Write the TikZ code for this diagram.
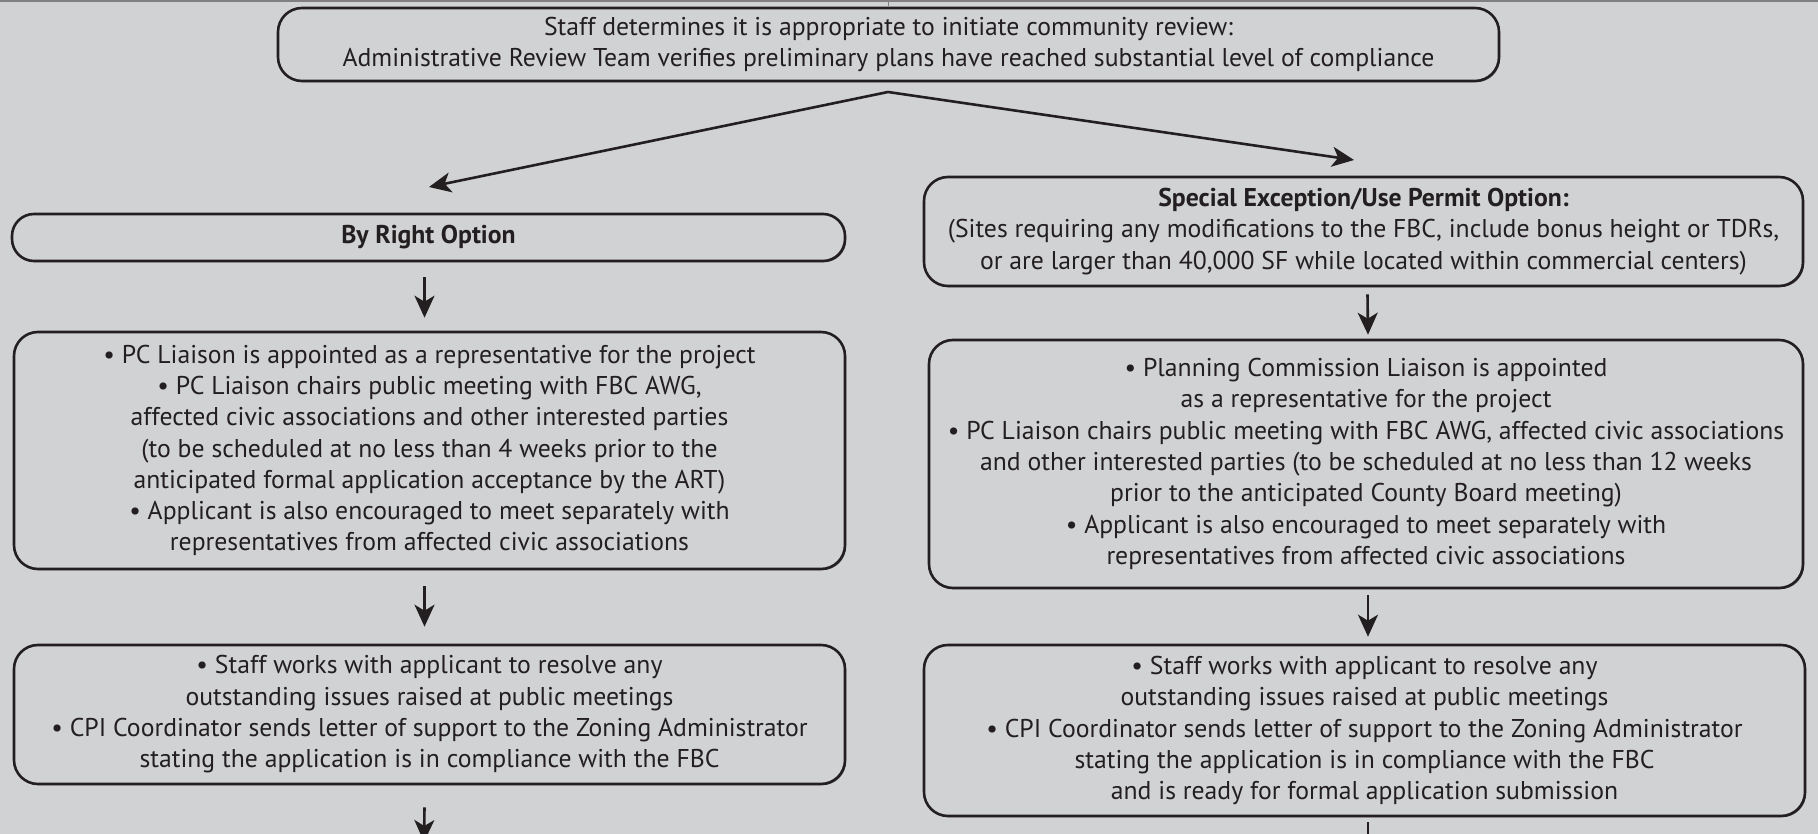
\documentclass[tikz,border=0pt]{standalone}
\usepackage{fontspec}
\setmainfont{PT Sans}
\usetikzlibrary{arrows.meta,shadows}
\definecolor{panel}{RGB}{209,210,212}
\definecolor{ink}{RGB}{35,31,32}
\begin{document}
\begin{tikzpicture}[x=1pt,y=-1pt,
    stepbox/.style={draw=ink,line width=2.6pt,rounded corners=24pt,fill=panel,align=center,inner sep=0pt,text=ink,
      font=\fontsize{25.7}{31.3}\selectfont,drop shadow={shadow xshift=1.2pt,shadow yshift=-1.2pt,fill=ink,opacity=0.6}},
    flow/.style={draw=ink,line width=2.6pt,-{Stealth[length=22pt,width=20pt,inset=6pt]}}]
\fill[panel] (0,0) rectangle (1818,834);
\clip (0,0) rectangle (1818,834);
\draw[gray,line width=2pt] (0,1) -- (1818,1);
\draw[gray,line width=1pt] (888,2) -- (888,6);
\node[stepbox,minimum width=1221pt,minimum height=73pt] (start) at (888.5,44.5)
  {Staff determines it is appropriate to initiate community review:\\
   Administrative Review Team verifies preliminary plans have reached substantial level of compliance};
\node[stepbox,rounded corners=22pt,minimum width=833pt,minimum height=47pt] (byright) at (428.5,237.5)
  {\textbf{By Right Option}};
\node[stepbox,minimum width=879pt,minimum height=109pt] (special) at (1363.5,231.5)
  {\textbf{Special Exception/Use Permit Option:}\\
   (Sites requiring any modifications to the FBC, include bonus height or TDRs,\\
   or are larger than 40,000 SF while located within commercial centers)};
\node[stepbox,minimum width=831pt,minimum height=237pt] (liaisonL) at (429.5,450.5)
  {• PC Liaison is appointed as a representative for the project\\
   • PC Liaison chairs public meeting with FBC AWG,\\
   affected civic associations and other interested parties\\
   (to be scheduled at no less than 4 weeks prior to the\\
   anticipated formal application acceptance by the ART)\\
   • Applicant is also encouraged to meet separately with\\
   representatives from affected civic associations};
\node[stepbox,minimum width=874pt,minimum height=248pt] (liaisonR) at (1366,464)
  {• Planning Commission Liaison is appointed\\
   as a representative for the project\\
   • PC Liaison chairs public meeting with FBC AWG, affected civic associations\\
   and other interested parties (to be scheduled at no less than 12 weeks\\
   prior to the anticipated County Board meeting)\\
   • Applicant is also encouraged to meet separately with\\
   representatives from affected civic associations};
\node[stepbox,minimum width=831pt,minimum height=139pt] (resolveL) at (429.5,714.5)
  {• Staff works with applicant to resolve any\\
   outstanding issues raised at public meetings\\
   • CPI Coordinator sends letter of support to the Zoning Administrator\\
   stating the application is in compliance with the FBC};
\node[stepbox,minimum width=881pt,minimum height=171pt] (resolveR) at (1364.5,730.5)
  {• Staff works with applicant to resolve any\\
   outstanding issues raised at public meetings\\
   • CPI Coordinator sends letter of support to the Zoning Administrator\\
   stating the application is in compliance with the FBC\\
   and is ready for formal application submission};
\coordinate (split) at (888,92);
\coordinate (toleft) at (429,187);
\coordinate (toright) at (1354,160);
\coordinate (endL) at (424,842);
\coordinate (endR) at (1368,860);
\draw[flow,{Stealth[length=22pt,width=20pt,inset=6pt]}-{Stealth[length=22pt,width=20pt,inset=6pt]}] (toleft) -- (split) -- (toright);
\draw[flow] ([xshift=-4pt,yshift=-15pt]byright.south) -- ([xshift=-5pt,yshift=13pt]liaisonL.north);
\draw[flow] ([xshift=-5pt,yshift=-16pt]liaisonL.south) -- ([xshift=-5pt,yshift=17pt]resolveL.north);
\draw[flow] ([xshift=-5pt,yshift=-22pt]resolveL.south) -- (endL);
\draw[flow] ([xshift=4pt,yshift=-7pt]special.south) -- ([xshift=2pt,yshift=4pt]liaisonR.north);
\draw[flow] ([xshift=2pt,yshift=-6pt]liaisonR.south) -- ([xshift=3.5pt,yshift=7pt]resolveR.north);
\draw[flow] ([xshift=3.5pt,yshift=-5pt]resolveR.south) -- (endR);
\end{tikzpicture}
\end{document}
